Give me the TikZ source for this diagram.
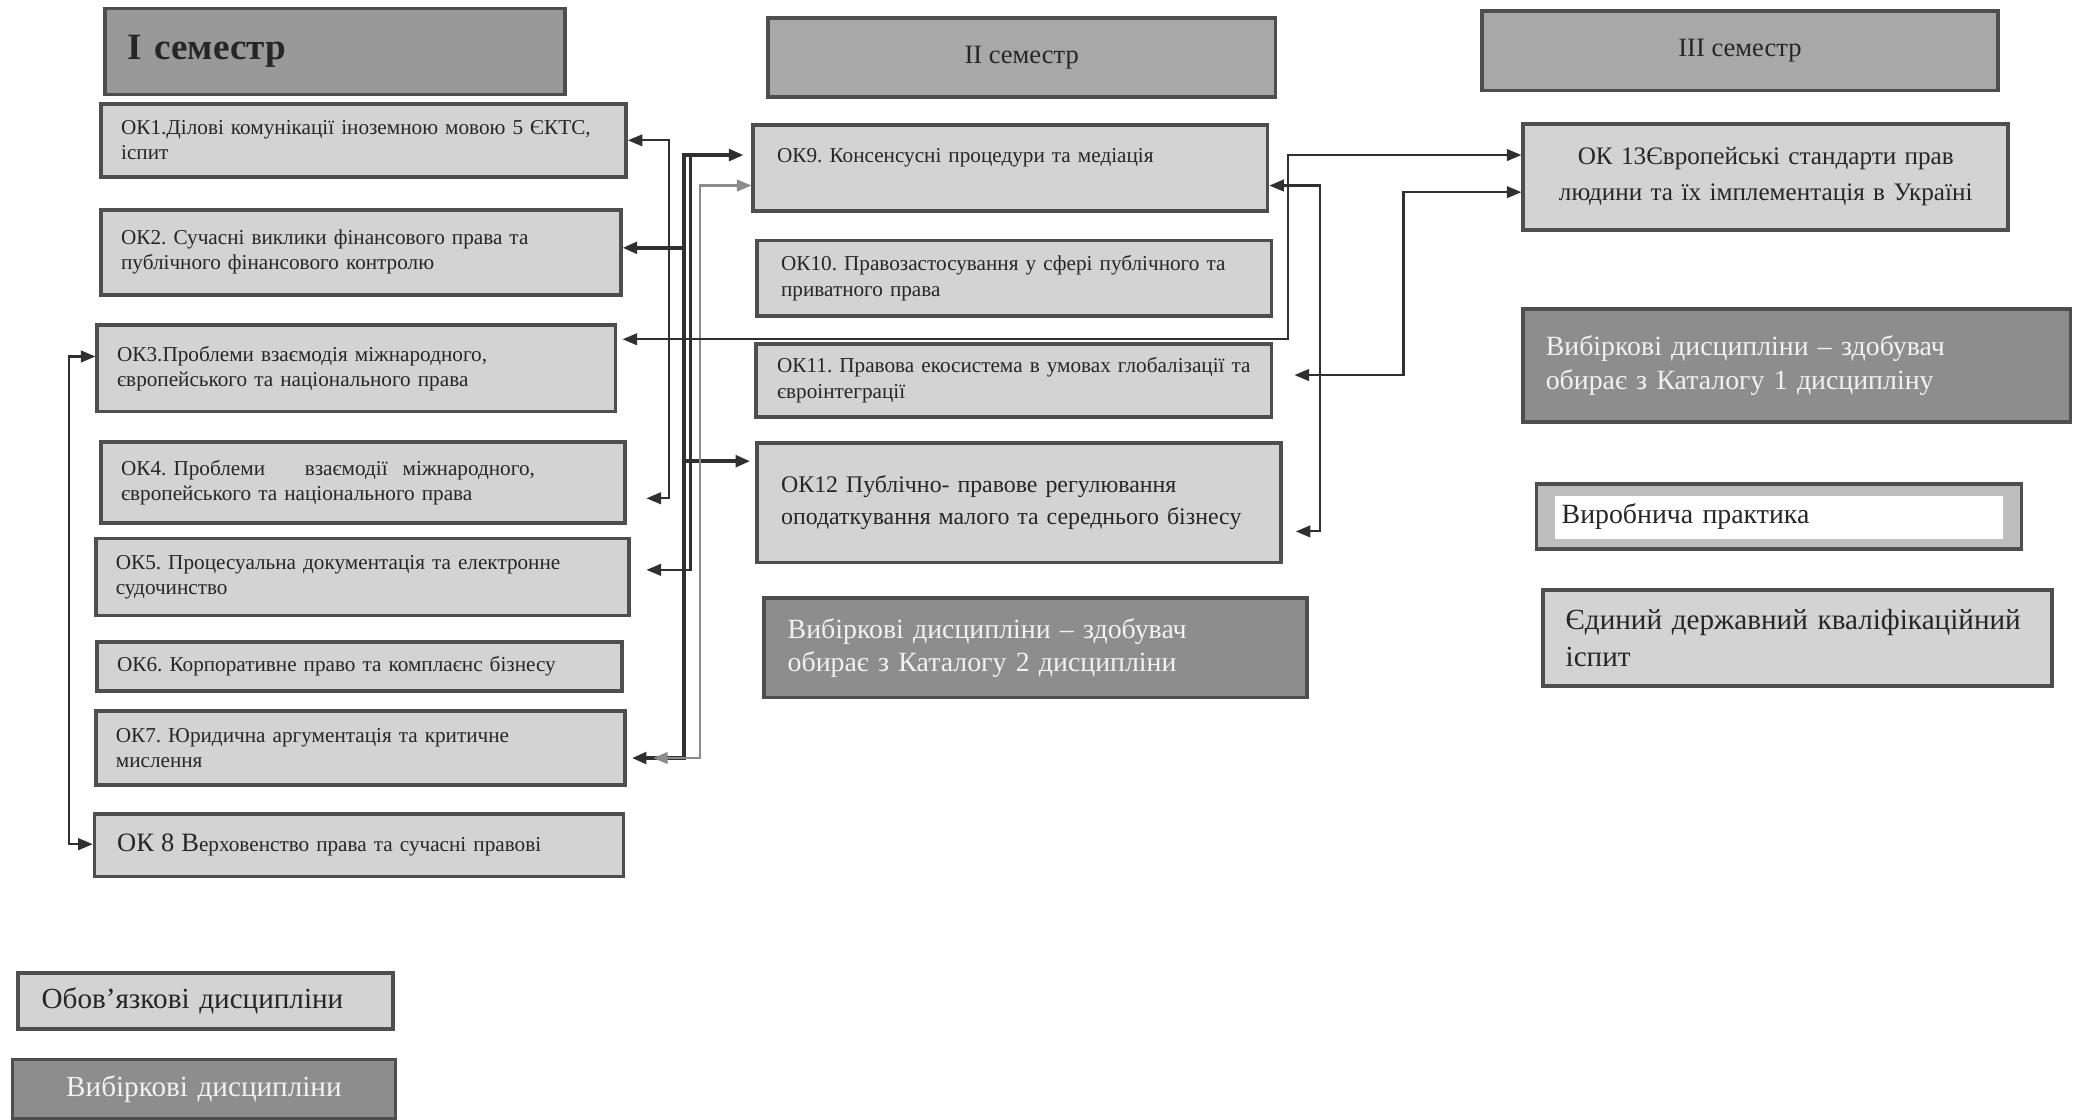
\documentclass[tikz,border=0pt]{standalone}
\usepackage{fontspec}
\setmainfont{Liberation Serif}
\frenchspacing
\usetikzlibrary{arrows.meta}
\definecolor{lightf}{HTML}{D3D3D3}
\definecolor{bdr}{HTML}{4E4E4E}
\definecolor{semf}{HTML}{A8A8A8}
\definecolor{semdark}{HTML}{999999}
\definecolor{darkf}{HTML}{8D8D8D}
\definecolor{txt}{HTML}{262626}
\definecolor{lnc}{HTML}{303030}
\definecolor{gln}{HTML}{8C8C8C}
\definecolor{wtxt}{HTML}{F2F2F2}
\begin{document}
\begin{tikzpicture}[x=0.5pt,y=-0.5pt,
  >={Triangle[length=5.5pt,width=4.4pt]},
  base/.style={draw=bdr, line width=1.4pt, anchor=north west, inner ysep=0pt, text=txt},
  okbox/.style={base, fill=lightf, align=left, inner xsep=7.5pt, font=\fontsize{8}{9.5}\selectfont},
  midbox/.style={okbox, inner xsep=9pt},
  hdr/.style={base, fill=semf, align=center, font=\fontsize{10}{12}\selectfont},
  elbox/.style={base, fill=darkf, text=wtxt, align=left, inner xsep=9pt, font=\fontsize{10.5}{12.5}\selectfont},
  lnk/.style={draw=lnc, line width=0.8pt},
  thk/.style={draw=lnc, line width=1.3pt},
  gry/.style={draw=gln, line width=0.8pt}
]
\fill[white] (0,0) rectangle (1568,845);
\useasboundingbox (0,0) rectangle (1568,845);

% headers
\node[base, fill=semdark, align=left, inner xsep=8.5pt, minimum width=173.5pt, minimum height=32.5pt, text width=156.5pt, font=\fontsize{14}{16}\selectfont\bfseries] (sem1) at (78,5) {\raisebox{-1.5pt}{I семестр}};
\node[hdr, minimum width=191.5pt, minimum height=30pt] (sem2) at (578,12) {II семестр};
\node[hdr, minimum width=194.5pt, minimum height=30pt] (sem3) at (1117,7) {III семестр};

% first semester
\node[okbox, minimum width=198pt, minimum height=27.5pt, text width=183pt] (ok1) at (75,77) {ОК1.Ділові комунікації іноземною мовою 5 ЄКТС,\\іспит};
\node[okbox, minimum width=196pt, minimum height=32pt, text width=181pt] (ok2) at (75,157) {ОК2. Сучасні виклики фінансового права та\\публічного фінансового контролю};
\node[okbox, minimum width=195.5pt, minimum height=32.5pt, text width=180.5pt] (ok3) at (72,244) {ОК3.Проблеми взаємодія міжнародного,\\європейського та національного права};
\node[okbox, minimum width=197.5pt, minimum height=30.5pt, text width=182.5pt] (ok4) at (75,332) {ОК4. Проблеми\hspace{15pt}взаємодії\hspace{3pt} міжнародного,\\європейського та національного права};
\node[okbox, minimum width=201pt, minimum height=29pt, text width=186pt] (ok5) at (71,405) {ОК5. Процесуальна документація та електронне\\судочинство};
\node[okbox, minimum width=198pt, minimum height=18.5pt, text width=183pt] (ok6) at (72,483) {ОК6. Корпоративне право та комплаєнс бізнесу};
\node[okbox, minimum width=199.5pt, minimum height=28pt, text width=184.5pt] (ok7) at (71,535) {ОК7. Юридична аргументація та критичне\\мислення};
\node[okbox, inner xsep=8.5pt, minimum width=199.5pt, minimum height=23.5pt, text width=182.5pt] (ok8) at (70,613) {{\fontsize{10}{11}\selectfont ОК 8 В}ерховенство права та сучасні правові};

% second semester
\node[midbox, minimum width=194pt, minimum height=32.5pt, text width=176pt] (ok9) at (567,93) {ОК9. Консенсусні процедури та медіація\\\mbox{}};
\node[midbox, minimum width=194pt, minimum height=28.5pt, text width=176pt] (ok10) at (570,180) {ОК10. Правозастосування у сфері публічного та\\приватного права};
\node[midbox, inner xsep=8pt, minimum width=194.5pt, minimum height=27.5pt, text width=178.5pt] (ok11) at (569,258) {\mbox{ОК11. Правова екосистема в умовах глобалізації та}\\євроінтеграції};
\node[midbox, minimum width=197.5pt, minimum height=45pt, text width=179.5pt, font=\fontsize{9}{12}\selectfont] (ok12) at (570,333) {ОК12 Публічно- правове регулювання\\оподаткування малого та середнього бізнесу};
\node[elbox, minimum width=205pt, minimum height=37.5pt, text width=187pt] (el2) at (575,450) {Вибіркові дисципліни – здобувач\\обирає з Каталогу 2 дисципліни};

% third semester
\node[okbox, align=center, inner xsep=8pt, minimum width=183pt, minimum height=40pt, text width=167pt, font=\fontsize{9.5}{13.5}\selectfont] (ok13) at (1148,92) {ОК 13Європейські стандарти прав\\людини та їх імплементація в Україні};
\node[elbox, inner xsep=8.5pt, minimum width=206.5pt, minimum height=42.5pt, text width=189.5pt, font=\fontsize{10.5}{13}\selectfont] (el1) at (1148,232) {Вибіркові дисципліни – здобувач\\обирає з Каталогу 1 дисципліну};
\node[okbox, fill=lightf!90!black, inner xsep=9.5pt, minimum width=183pt, minimum height=24.5pt, text width=164pt, font=\fontsize{10.5}{12}\selectfont,
  path picture={\fill[white] ([xshift=7pt,yshift=-4.5pt]path picture bounding box.north west) rectangle ([xshift=-7pt,yshift=4pt]path picture bounding box.south east);}] (vp) at (1158,364) {Виробнича практика};
\node[okbox, inner xsep=8.5pt, minimum width=192pt, minimum height=36pt, text width=175pt, font=\fontsize{11}{14}\selectfont] (edki) at (1163,444) {Єдиний державний кваліфікаційний\\іспит};

% legend
\node[okbox, inner xsep=9pt, minimum width=141.5pt, minimum height=21pt, text width=123.5pt, font=\fontsize{11}{13}\selectfont] (leg1) at (12,733) {Обов’язкові дисципліни};
\node[elbox, align=center, minimum width=144.5pt, minimum height=22.5pt, text width=126.5pt, font=\fontsize{11}{13}\selectfont] (leg2) at (8,798) {Вибіркові дисципліни};

% connectors, left bus
\draw[lnk,<->,shorten >=7.5pt] (ok1.east) -| (505,376) -- (ok4.east |- 0,376);
\draw[thk,<->,shorten >=3pt] (ok2.east |- 0,187) -- (516,187) |- (ok9.west |- 0,117);
\draw[thk,->,shorten >=2pt] (516,187) |- (ok12.west |- 0,348);
\draw[thk,->,shorten >=2pt] (516,348) |- (ok7.east |- 0,572);
\draw[lnk,->,shorten >=6pt] (521,117) |- (ok5.east |- 0,430);
\draw[gry,<->,shorten >=10pt] (ok9.west |- 0,140) -| (528,572) -- (ok7.east |- 0,572);
% left loop
\draw[lnk,<->] (ok3.west |- 0,269) -| (52,637) -- (ok8.west |- 0,637);
% right connectors
\draw[lnk,<->,shorten <=2pt] (ok3.east |- 0,256) -| (972,117) -- (ok13.west |- 0,117);
\draw[lnk,<->,shorten >=5pt] (ok9.east |- 0,140) -| (996,401) -- (ok12.east |- 0,401);
\draw[lnk,<->,shorten >=8pt] (ok13.west |- 0,145) -| (1059,283) -- (ok11.east |- 0,283);
\end{tikzpicture}
\end{document}
